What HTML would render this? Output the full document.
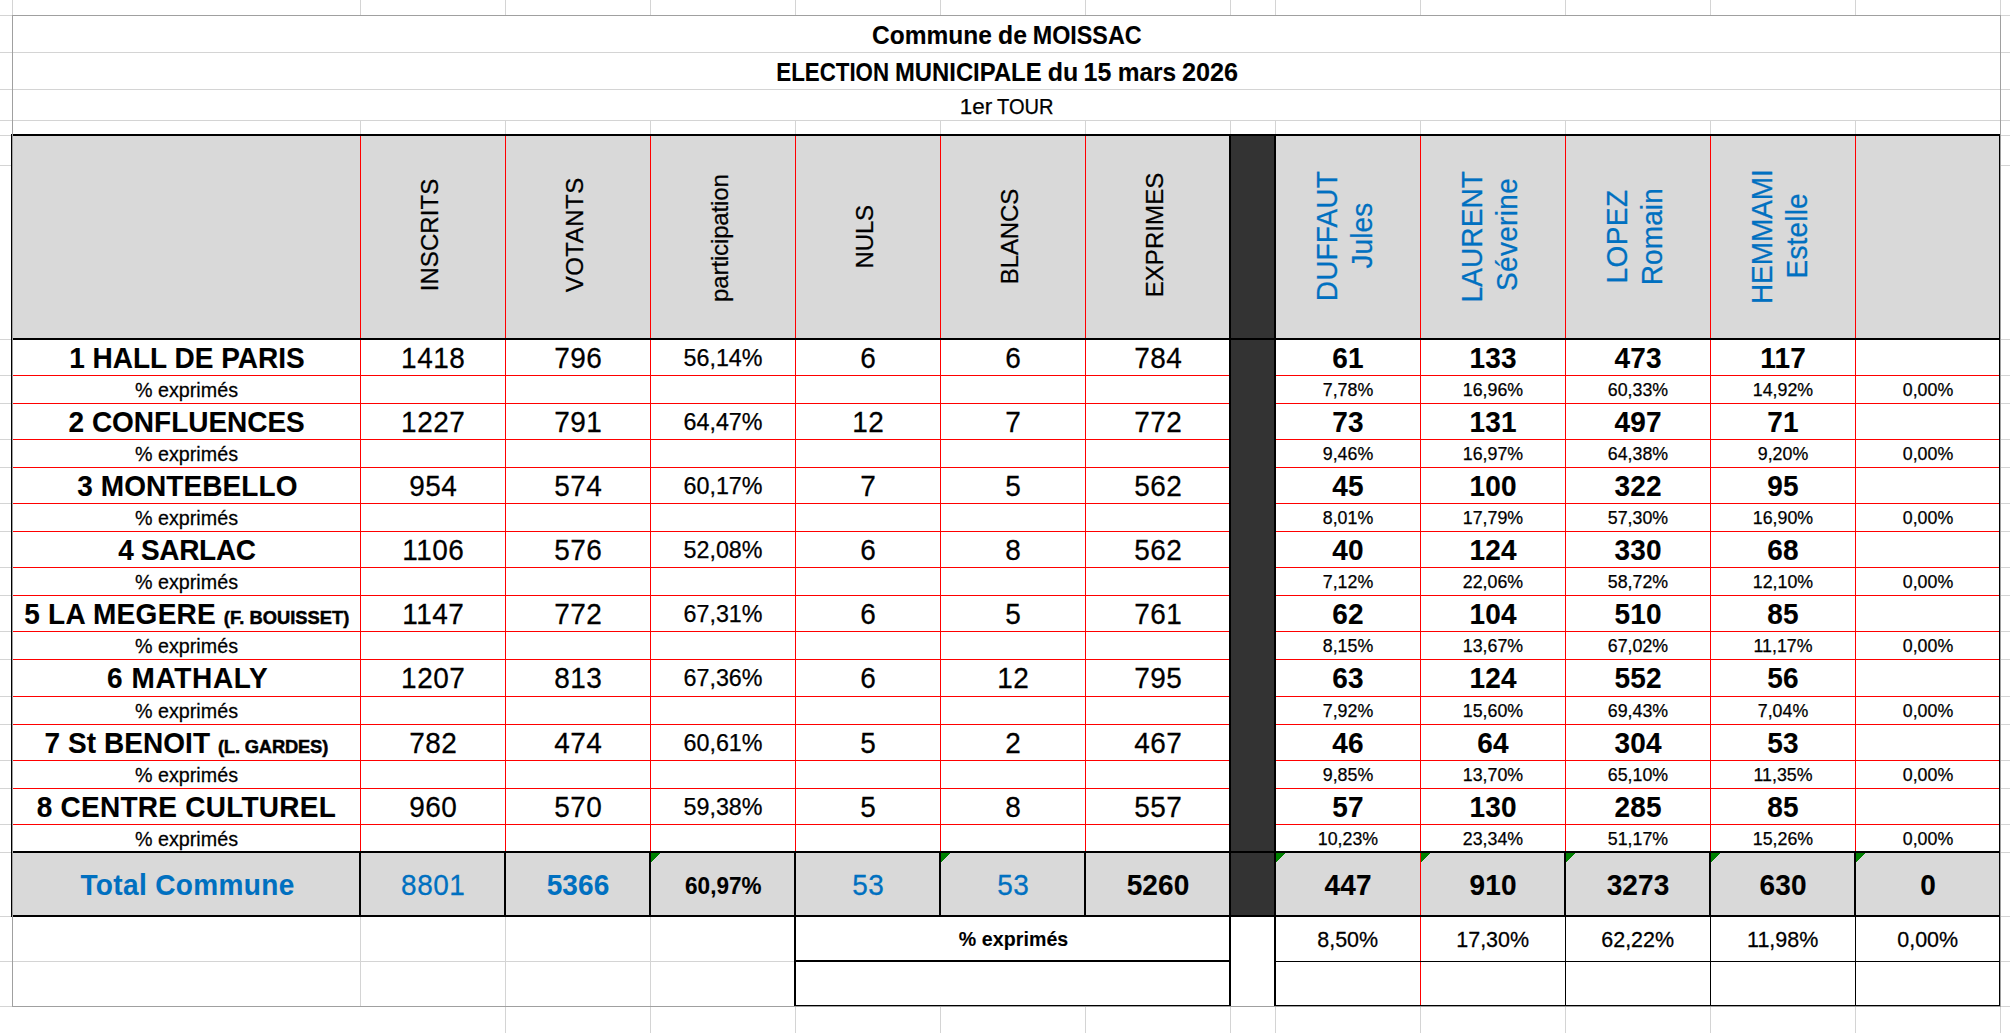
<!DOCTYPE html>
<html lang="fr">
<head>
<meta charset="utf-8">
<title>Commune de MOISSAC - Election municipale du 15 mars 2026 - 1er tour</title>
<style>
html,body{margin:0;padding:0;background:#fff;}
body{width:2010px;height:1033px;overflow:hidden;}
svg{display:block;font-family:"Liberation Sans",Arial,sans-serif;}
</style>
</head>
<body>
<svg width="2010" height="1033" viewBox="0 0 2010 1033">
<rect width="2010" height="1033" fill="#ffffff"/>
<g shape-rendering="crispEdges">
<rect x="12" y="0" width="1" height="15" fill="#d4d4d4"/>
<rect x="360" y="0" width="1" height="15" fill="#d4d4d4"/>
<rect x="360" y="121" width="1" height="13" fill="#d4d4d4"/>
<rect x="505" y="0" width="1" height="15" fill="#d4d4d4"/>
<rect x="505" y="121" width="1" height="13" fill="#d4d4d4"/>
<rect x="650" y="0" width="1" height="15" fill="#d4d4d4"/>
<rect x="650" y="121" width="1" height="13" fill="#d4d4d4"/>
<rect x="795" y="0" width="1" height="15" fill="#d4d4d4"/>
<rect x="795" y="121" width="1" height="13" fill="#d4d4d4"/>
<rect x="940" y="0" width="1" height="15" fill="#d4d4d4"/>
<rect x="940" y="121" width="1" height="13" fill="#d4d4d4"/>
<rect x="1085" y="0" width="1" height="15" fill="#d4d4d4"/>
<rect x="1085" y="121" width="1" height="13" fill="#d4d4d4"/>
<rect x="1230" y="0" width="1" height="15" fill="#d4d4d4"/>
<rect x="1230" y="121" width="1" height="13" fill="#d4d4d4"/>
<rect x="1275" y="0" width="1" height="15" fill="#d4d4d4"/>
<rect x="1275" y="121" width="1" height="13" fill="#d4d4d4"/>
<rect x="1420" y="0" width="1" height="15" fill="#d4d4d4"/>
<rect x="1420" y="121" width="1" height="13" fill="#d4d4d4"/>
<rect x="1565" y="0" width="1" height="15" fill="#d4d4d4"/>
<rect x="1565" y="121" width="1" height="13" fill="#d4d4d4"/>
<rect x="1710" y="0" width="1" height="15" fill="#d4d4d4"/>
<rect x="1710" y="121" width="1" height="13" fill="#d4d4d4"/>
<rect x="1855" y="0" width="1" height="15" fill="#d4d4d4"/>
<rect x="1855" y="121" width="1" height="13" fill="#d4d4d4"/>
<rect x="2000" y="0" width="1" height="15" fill="#d4d4d4"/>
<rect x="505" y="1007" width="1" height="26" fill="#d4d4d4"/>
<rect x="650" y="1007" width="1" height="26" fill="#d4d4d4"/>
<rect x="795" y="1007" width="1" height="26" fill="#d4d4d4"/>
<rect x="940" y="1007" width="1" height="26" fill="#d4d4d4"/>
<rect x="1085" y="1007" width="1" height="26" fill="#d4d4d4"/>
<rect x="1230" y="1007" width="1" height="26" fill="#d4d4d4"/>
<rect x="1275" y="1007" width="1" height="26" fill="#d4d4d4"/>
<rect x="1420" y="1007" width="1" height="26" fill="#d4d4d4"/>
<rect x="1565" y="1007" width="1" height="26" fill="#d4d4d4"/>
<rect x="1710" y="1007" width="1" height="26" fill="#d4d4d4"/>
<rect x="1855" y="1007" width="1" height="26" fill="#d4d4d4"/>
<rect x="2000" y="1007" width="1" height="26" fill="#d4d4d4"/>
<rect x="0" y="15" width="12" height="1" fill="#d4d4d4"/>
<rect x="2001" y="15" width="9" height="1" fill="#d4d4d4"/>
<rect x="0" y="52" width="12" height="1" fill="#d4d4d4"/>
<rect x="2001" y="52" width="9" height="1" fill="#d4d4d4"/>
<rect x="0" y="89" width="12" height="1" fill="#d4d4d4"/>
<rect x="2001" y="89" width="9" height="1" fill="#d4d4d4"/>
<rect x="0" y="120" width="12" height="1" fill="#d4d4d4"/>
<rect x="2001" y="120" width="9" height="1" fill="#d4d4d4"/>
<rect x="0" y="135" width="12" height="1" fill="#d4d4d4"/>
<rect x="2001" y="135" width="9" height="1" fill="#d4d4d4"/>
<rect x="0" y="165" width="12" height="1" fill="#d4d4d4"/>
<rect x="2001" y="165" width="9" height="1" fill="#d4d4d4"/>
<rect x="0" y="339" width="12" height="1" fill="#d4d4d4"/>
<rect x="2001" y="339" width="9" height="1" fill="#d4d4d4"/>
<rect x="0" y="375" width="12" height="1" fill="#d4d4d4"/>
<rect x="2001" y="375" width="9" height="1" fill="#d4d4d4"/>
<rect x="0" y="439" width="12" height="1" fill="#d4d4d4"/>
<rect x="2001" y="439" width="9" height="1" fill="#d4d4d4"/>
<rect x="0" y="503" width="12" height="1" fill="#d4d4d4"/>
<rect x="2001" y="503" width="9" height="1" fill="#d4d4d4"/>
<rect x="0" y="567" width="12" height="1" fill="#d4d4d4"/>
<rect x="2001" y="567" width="9" height="1" fill="#d4d4d4"/>
<rect x="0" y="631" width="12" height="1" fill="#d4d4d4"/>
<rect x="2001" y="631" width="9" height="1" fill="#d4d4d4"/>
<rect x="0" y="696" width="12" height="1" fill="#d4d4d4"/>
<rect x="2001" y="696" width="9" height="1" fill="#d4d4d4"/>
<rect x="0" y="760" width="12" height="1" fill="#d4d4d4"/>
<rect x="2001" y="760" width="9" height="1" fill="#d4d4d4"/>
<rect x="0" y="824" width="12" height="1" fill="#d4d4d4"/>
<rect x="2001" y="824" width="9" height="1" fill="#d4d4d4"/>
<rect x="0" y="403" width="12" height="1" fill="#d4d4d4"/>
<rect x="2001" y="403" width="9" height="1" fill="#d4d4d4"/>
<rect x="0" y="467" width="12" height="1" fill="#d4d4d4"/>
<rect x="2001" y="467" width="9" height="1" fill="#d4d4d4"/>
<rect x="0" y="531" width="12" height="1" fill="#d4d4d4"/>
<rect x="2001" y="531" width="9" height="1" fill="#d4d4d4"/>
<rect x="0" y="595" width="12" height="1" fill="#d4d4d4"/>
<rect x="2001" y="595" width="9" height="1" fill="#d4d4d4"/>
<rect x="0" y="659" width="12" height="1" fill="#d4d4d4"/>
<rect x="2001" y="659" width="9" height="1" fill="#d4d4d4"/>
<rect x="0" y="724" width="12" height="1" fill="#d4d4d4"/>
<rect x="2001" y="724" width="9" height="1" fill="#d4d4d4"/>
<rect x="0" y="788" width="12" height="1" fill="#d4d4d4"/>
<rect x="2001" y="788" width="9" height="1" fill="#d4d4d4"/>
<rect x="0" y="852" width="12" height="1" fill="#d4d4d4"/>
<rect x="2001" y="852" width="9" height="1" fill="#d4d4d4"/>
<rect x="0" y="916" width="12" height="1" fill="#d4d4d4"/>
<rect x="2001" y="916" width="9" height="1" fill="#d4d4d4"/>
<rect x="0" y="961" width="12" height="1" fill="#d4d4d4"/>
<rect x="2001" y="961" width="9" height="1" fill="#d4d4d4"/>
<rect x="0" y="1006" width="12" height="1" fill="#d4d4d4"/>
<rect x="2001" y="1006" width="9" height="1" fill="#d4d4d4"/>
<rect x="13" y="52" width="1987" height="1" fill="#d4d4d4"/>
<rect x="13" y="89" width="1987" height="1" fill="#d4d4d4"/>
<rect x="13" y="120" width="1987" height="1" fill="#d4d4d4"/>
<rect x="13" y="136" width="1216" height="202" fill="#d9d9d9"/>
<rect x="1276" y="136" width="723" height="202" fill="#d9d9d9"/>
<rect x="1231" y="136" width="43" height="780" fill="#333333"/>
<rect x="13" y="853" width="1216" height="62" fill="#d9d9d9"/>
<rect x="1276" y="853" width="723" height="62" fill="#d9d9d9"/>
<rect x="360" y="136" width="1" height="715" fill="#ff0000"/>
<rect x="505" y="136" width="1" height="715" fill="#ff0000"/>
<rect x="650" y="136" width="1" height="715" fill="#ff0000"/>
<rect x="795" y="136" width="1" height="715" fill="#ff0000"/>
<rect x="940" y="136" width="1" height="715" fill="#ff0000"/>
<rect x="1085" y="136" width="1" height="715" fill="#ff0000"/>
<rect x="1420" y="136" width="1" height="715" fill="#ff0000"/>
<rect x="1565" y="136" width="1" height="715" fill="#ff0000"/>
<rect x="1710" y="136" width="1" height="715" fill="#ff0000"/>
<rect x="1855" y="136" width="1" height="715" fill="#ff0000"/>
<rect x="1420" y="853" width="1" height="152" fill="#ff0000"/>
<rect x="13" y="375" width="1216" height="1" fill="#ff0000"/>
<rect x="1276" y="375" width="723" height="1" fill="#ff0000"/>
<rect x="13" y="439" width="1216" height="1" fill="#ff0000"/>
<rect x="1276" y="439" width="723" height="1" fill="#ff0000"/>
<rect x="13" y="503" width="1216" height="1" fill="#ff0000"/>
<rect x="1276" y="503" width="723" height="1" fill="#ff0000"/>
<rect x="13" y="567" width="1216" height="1" fill="#ff0000"/>
<rect x="1276" y="567" width="723" height="1" fill="#ff0000"/>
<rect x="13" y="631" width="1216" height="1" fill="#ff0000"/>
<rect x="1276" y="631" width="723" height="1" fill="#ff0000"/>
<rect x="13" y="696" width="1216" height="1" fill="#ff0000"/>
<rect x="1276" y="696" width="723" height="1" fill="#ff0000"/>
<rect x="13" y="760" width="1216" height="1" fill="#ff0000"/>
<rect x="1276" y="760" width="723" height="1" fill="#ff0000"/>
<rect x="13" y="824" width="1216" height="1" fill="#ff0000"/>
<rect x="1276" y="824" width="723" height="1" fill="#ff0000"/>
<rect x="13" y="403" width="1216" height="1" fill="#ff0000"/>
<rect x="1276" y="403" width="723" height="1" fill="#ff0000"/>
<rect x="13" y="467" width="1216" height="1" fill="#ff0000"/>
<rect x="1276" y="467" width="723" height="1" fill="#ff0000"/>
<rect x="13" y="531" width="1216" height="1" fill="#ff0000"/>
<rect x="1276" y="531" width="723" height="1" fill="#ff0000"/>
<rect x="13" y="595" width="1216" height="1" fill="#ff0000"/>
<rect x="1276" y="595" width="723" height="1" fill="#ff0000"/>
<rect x="13" y="659" width="1216" height="1" fill="#ff0000"/>
<rect x="1276" y="659" width="723" height="1" fill="#ff0000"/>
<rect x="13" y="724" width="1216" height="1" fill="#ff0000"/>
<rect x="1276" y="724" width="723" height="1" fill="#ff0000"/>
<rect x="13" y="788" width="1216" height="1" fill="#ff0000"/>
<rect x="1276" y="788" width="723" height="1" fill="#ff0000"/>
<rect x="13" y="961" width="781" height="1" fill="#d4d4d4"/>
<rect x="360" y="917" width="1" height="89" fill="#d4d4d4"/>
<rect x="505" y="917" width="1" height="89" fill="#d4d4d4"/>
<rect x="650" y="917" width="1" height="89" fill="#d4d4d4"/>
<rect x="11" y="134" width="1990" height="2" fill="#000000"/>
<rect x="11" y="338" width="1990" height="2" fill="#000000"/>
<rect x="11" y="851" width="1990" height="2" fill="#000000"/>
<rect x="11" y="915" width="1990" height="2" fill="#000000"/>
<rect x="11" y="134" width="2" height="783" fill="#000000"/>
<rect x="1999" y="134" width="2" height="873" fill="#000000"/>
<rect x="1229" y="134" width="2" height="873" fill="#000000"/>
<rect x="1274" y="134" width="2" height="873" fill="#000000"/>
<rect x="359" y="853" width="2" height="62" fill="#000000"/>
<rect x="504" y="853" width="2" height="62" fill="#000000"/>
<rect x="649" y="853" width="2" height="62" fill="#000000"/>
<rect x="794" y="853" width="2" height="62" fill="#000000"/>
<rect x="939" y="853" width="2" height="62" fill="#000000"/>
<rect x="1084" y="853" width="2" height="62" fill="#000000"/>
<rect x="1564" y="853" width="2" height="62" fill="#000000"/>
<rect x="1709" y="853" width="2" height="62" fill="#000000"/>
<rect x="1854" y="853" width="2" height="62" fill="#000000"/>
<rect x="794" y="917" width="2" height="90" fill="#000000"/>
<rect x="794" y="960" width="435" height="2" fill="#000000"/>
<rect x="794" y="1005" width="435" height="2" fill="#000000"/>
<rect x="1276" y="961" width="723" height="1" fill="#000000"/>
<rect x="1276" y="1005" width="723" height="2" fill="#000000"/>
<rect x="1565" y="917" width="1" height="88" fill="#000000"/>
<rect x="1710" y="917" width="1" height="88" fill="#000000"/>
<rect x="1855" y="917" width="1" height="88" fill="#000000"/>
<rect x="12" y="15" width="1989" height="1" fill="#a0a0a0"/>
<rect x="12" y="1006" width="1989" height="1" fill="#a0a0a0"/>
<rect x="12" y="15" width="1" height="992" fill="#a0a0a0"/>
<rect x="2000" y="15" width="1" height="992" fill="#a0a0a0"/>
</g>
<path d="M651 853h9v1h-1v1h-1v1h-1v1h-1v1h-1v1h-1v1h-1v1h-1v1h-1z" fill="#008000" shape-rendering="crispEdges"/>
<path d="M941 853h9v1h-1v1h-1v1h-1v1h-1v1h-1v1h-1v1h-1v1h-1v1h-1z" fill="#008000" shape-rendering="crispEdges"/>
<path d="M1276 853h9v1h-1v1h-1v1h-1v1h-1v1h-1v1h-1v1h-1v1h-1v1h-1z" fill="#008000" shape-rendering="crispEdges"/>
<path d="M1421 853h9v1h-1v1h-1v1h-1v1h-1v1h-1v1h-1v1h-1v1h-1v1h-1z" fill="#008000" shape-rendering="crispEdges"/>
<path d="M1566 853h9v1h-1v1h-1v1h-1v1h-1v1h-1v1h-1v1h-1v1h-1v1h-1z" fill="#008000" shape-rendering="crispEdges"/>
<path d="M1711 853h9v1h-1v1h-1v1h-1v1h-1v1h-1v1h-1v1h-1v1h-1v1h-1z" fill="#008000" shape-rendering="crispEdges"/>
<path d="M1856 853h9v1h-1v1h-1v1h-1v1h-1v1h-1v1h-1v1h-1v1h-1v1h-1z" fill="#008000" shape-rendering="crispEdges"/>
<g fill="#000000" stroke="#000000" stroke-width="0.25">
<text y="44" font-size="26" font-weight="bold" stroke-width="0.1"><tspan x="872.01" textLength="119.83" lengthAdjust="spacingAndGlyphs">Commune</tspan> <tspan x="998.02" textLength="28.91" lengthAdjust="spacingAndGlyphs">de</tspan> <tspan x="1032.74" textLength="108.83" lengthAdjust="spacingAndGlyphs">MOISSAC</tspan></text>
<text y="81" font-size="26" font-weight="bold" stroke-width="0.1"><tspan x="776.31" textLength="112.74" lengthAdjust="spacingAndGlyphs">ELECTION</tspan> <tspan x="895.01" textLength="146.56" lengthAdjust="spacingAndGlyphs">MUNICIPALE</tspan> <tspan x="1047.81" textLength="30.48" lengthAdjust="spacingAndGlyphs">du</tspan> <tspan x="1083.62" textLength="27.8" lengthAdjust="spacingAndGlyphs">15</tspan> <tspan x="1117.65" textLength="58.54" lengthAdjust="spacingAndGlyphs">mars</tspan> <tspan x="1181.93" textLength="56.15" lengthAdjust="spacingAndGlyphs">2026</tspan></text>
<text y="114" font-size="21.2"><tspan x="959.89" textLength="32.46" lengthAdjust="spacingAndGlyphs">1er</tspan> <tspan x="997.05" textLength="56.51" lengthAdjust="spacingAndGlyphs">TOUR</tspan></text>
<text transform="translate(437.8 291.34) rotate(-90) scale(1 1.02)" font-size="24" letter-spacing="0.09">INSCRITS</text>
<text transform="translate(582.8 292.33) rotate(-90) scale(1 1.02)" font-size="24" letter-spacing="0.5">VOTANTS</text>
<text transform="translate(727.8 301.88) rotate(-90) scale(1 1.02)" font-size="24" letter-spacing="-0.14">participation</text>
<text transform="translate(872.8 268.4) rotate(-90) scale(1 1.02)" font-size="24" letter-spacing="-0.17">NULS</text>
<text transform="translate(1017.8 284.2) rotate(-90) scale(1 1.02)" font-size="24" letter-spacing="-0.12">BLANCS</text>
<text transform="translate(1162.8 297.3) rotate(-90) scale(1 1.02)" font-size="24" letter-spacing="0.08">EXPRIMES</text>
<text transform="translate(1337.4 301.21) rotate(-90) scale(1 1.04)" font-size="28" fill="#0070c0" stroke="#0070c0" letter-spacing="0.16">DUFFAUT</text>
<text transform="translate(1371.9 268.51) rotate(-90) scale(1 1.03)" font-size="28" fill="#0070c0" stroke="#0070c0" letter-spacing="0.08">Jules</text>
<text transform="translate(1482.4 302.51) rotate(-90) scale(1 1.04)" font-size="28" fill="#0070c0" stroke="#0070c0" letter-spacing="0.13">LAURENT</text>
<text transform="translate(1516.9 290.94) rotate(-90) scale(1 1.03)" font-size="28" fill="#0070c0" stroke="#0070c0" letter-spacing="0.32">Séverine</text>
<text transform="translate(1627.4 283.41) rotate(-90) scale(1 1.04)" font-size="28" fill="#0070c0" stroke="#0070c0" letter-spacing="0.43">LOPEZ</text>
<text transform="translate(1661.9 285.31) rotate(-90) scale(1 1.03)" font-size="28" fill="#0070c0" stroke="#0070c0" letter-spacing="0.12">Romain</text>
<text transform="translate(1772.4 304.11) rotate(-90) scale(1 1.04)" font-size="28" fill="#0070c0" stroke="#0070c0" letter-spacing="-0.06">HEMMAMI</text>
<text transform="translate(1806.9 278.41) rotate(-90) scale(1 1.03)" font-size="28" fill="#0070c0" stroke="#0070c0" letter-spacing="0.17">Estelle</text>
<text transform="translate(69.14 368) scale(1 1.05)" font-size="28" font-weight="bold" stroke-width="0.1" letter-spacing="0.02">1 HALL DE PARIS</text>
<text transform="translate(401.1 368) scale(1 1.045)" font-size="28" letter-spacing="0.5">1418</text>
<text transform="translate(554.14 368) scale(1 1.045)" font-size="28" letter-spacing="0.5">796</text>
<text transform="translate(860.21 368) scale(1 1.045)" font-size="28" letter-spacing="0.5">6</text>
<text transform="translate(1005.21 368) scale(1 1.045)" font-size="28" letter-spacing="0.5">6</text>
<text transform="translate(1134.14 368) scale(1 1.045)" font-size="28" letter-spacing="0.5">784</text>
<text transform="translate(683.49 366)" font-size="23.3">56,14%</text>
<text transform="translate(1332.35 368) scale(1 1.05)" font-size="28" font-weight="bold" stroke-width="0.1" letter-spacing="0.15">61</text>
<text transform="translate(1469.49 368) scale(1 1.05)" font-size="28" font-weight="bold" stroke-width="0.1" letter-spacing="0.15">133</text>
<text transform="translate(1614.49 368) scale(1 1.05)" font-size="28" font-weight="bold" stroke-width="0.1" letter-spacing="0.15">473</text>
<text transform="translate(1760.26 368) scale(1 1.05)" font-size="28" font-weight="bold" stroke-width="0.1" letter-spacing="0.15">117</text>
<text transform="translate(134.95 397) scale(1 1.05)" font-size="19.7" letter-spacing="0.02">% exprimés</text>
<text transform="translate(1322.79 396)" font-size="17.8">7,78%</text>
<text transform="translate(1462.84 396)" font-size="17.8">16,96%</text>
<text transform="translate(1607.84 396)" font-size="17.8">60,33%</text>
<text transform="translate(1752.84 396)" font-size="17.8">14,92%</text>
<text transform="translate(1902.79 396)" font-size="17.8">0,00%</text>
<text transform="translate(68.6 432) scale(1 1.05)" font-size="28" font-weight="bold" stroke-width="0.1" letter-spacing="-0.01">2 CONFLUENCES</text>
<text transform="translate(401.1 432) scale(1 1.045)" font-size="28" letter-spacing="0.5">1227</text>
<text transform="translate(554.14 432) scale(1 1.045)" font-size="28" letter-spacing="0.5">791</text>
<text transform="translate(852.17 432) scale(1 1.045)" font-size="28" letter-spacing="0.5">12</text>
<text transform="translate(1005.21 432) scale(1 1.045)" font-size="28" letter-spacing="0.5">7</text>
<text transform="translate(1134.14 432) scale(1 1.045)" font-size="28" letter-spacing="0.5">772</text>
<text transform="translate(683.49 430)" font-size="23.3">64,47%</text>
<text transform="translate(1332.35 432) scale(1 1.05)" font-size="28" font-weight="bold" stroke-width="0.1" letter-spacing="0.15">73</text>
<text transform="translate(1469.49 432) scale(1 1.05)" font-size="28" font-weight="bold" stroke-width="0.1" letter-spacing="0.15">131</text>
<text transform="translate(1614.49 432) scale(1 1.05)" font-size="28" font-weight="bold" stroke-width="0.1" letter-spacing="0.15">497</text>
<text transform="translate(1767.35 432) scale(1 1.05)" font-size="28" font-weight="bold" stroke-width="0.1" letter-spacing="0.15">71</text>
<text transform="translate(134.95 461) scale(1 1.05)" font-size="19.7" letter-spacing="0.02">% exprimés</text>
<text transform="translate(1322.79 460)" font-size="17.8">9,46%</text>
<text transform="translate(1462.84 460)" font-size="17.8">16,97%</text>
<text transform="translate(1607.84 460)" font-size="17.8">64,38%</text>
<text transform="translate(1757.79 460)" font-size="17.8">9,20%</text>
<text transform="translate(1902.79 460)" font-size="17.8">0,00%</text>
<text transform="translate(77.25 496) scale(1 1.05)" font-size="28" font-weight="bold" stroke-width="0.1" letter-spacing="0.09">3 MONTEBELLO</text>
<text transform="translate(409.14 496) scale(1 1.045)" font-size="28" letter-spacing="0.5">954</text>
<text transform="translate(554.14 496) scale(1 1.045)" font-size="28" letter-spacing="0.5">574</text>
<text transform="translate(860.21 496) scale(1 1.045)" font-size="28" letter-spacing="0.5">7</text>
<text transform="translate(1005.21 496) scale(1 1.045)" font-size="28" letter-spacing="0.5">5</text>
<text transform="translate(1134.14 496) scale(1 1.045)" font-size="28" letter-spacing="0.5">562</text>
<text transform="translate(683.49 494)" font-size="23.3">60,17%</text>
<text transform="translate(1332.35 496) scale(1 1.05)" font-size="28" font-weight="bold" stroke-width="0.1" letter-spacing="0.15">45</text>
<text transform="translate(1469.49 496) scale(1 1.05)" font-size="28" font-weight="bold" stroke-width="0.1" letter-spacing="0.15">100</text>
<text transform="translate(1614.49 496) scale(1 1.05)" font-size="28" font-weight="bold" stroke-width="0.1" letter-spacing="0.15">322</text>
<text transform="translate(1767.35 496) scale(1 1.05)" font-size="28" font-weight="bold" stroke-width="0.1" letter-spacing="0.15">95</text>
<text transform="translate(134.95 525) scale(1 1.05)" font-size="19.7" letter-spacing="0.02">% exprimés</text>
<text transform="translate(1322.79 524)" font-size="17.8">8,01%</text>
<text transform="translate(1462.84 524)" font-size="17.8">17,79%</text>
<text transform="translate(1607.84 524)" font-size="17.8">57,30%</text>
<text transform="translate(1752.84 524)" font-size="17.8">16,90%</text>
<text transform="translate(1902.79 524)" font-size="17.8">0,00%</text>
<text transform="translate(118.26 560) scale(1 1.05)" font-size="28" font-weight="bold" stroke-width="0.1" letter-spacing="-0.31">4 SARLAC</text>
<text transform="translate(402.14 560) scale(1 1.045)" font-size="28" letter-spacing="0.5">1106</text>
<text transform="translate(554.14 560) scale(1 1.045)" font-size="28" letter-spacing="0.5">576</text>
<text transform="translate(860.21 560) scale(1 1.045)" font-size="28" letter-spacing="0.5">6</text>
<text transform="translate(1005.21 560) scale(1 1.045)" font-size="28" letter-spacing="0.5">8</text>
<text transform="translate(1134.14 560) scale(1 1.045)" font-size="28" letter-spacing="0.5">562</text>
<text transform="translate(683.49 558)" font-size="23.3">52,08%</text>
<text transform="translate(1332.35 560) scale(1 1.05)" font-size="28" font-weight="bold" stroke-width="0.1" letter-spacing="0.15">40</text>
<text transform="translate(1469.49 560) scale(1 1.05)" font-size="28" font-weight="bold" stroke-width="0.1" letter-spacing="0.15">124</text>
<text transform="translate(1614.49 560) scale(1 1.05)" font-size="28" font-weight="bold" stroke-width="0.1" letter-spacing="0.15">330</text>
<text transform="translate(1767.35 560) scale(1 1.05)" font-size="28" font-weight="bold" stroke-width="0.1" letter-spacing="0.15">68</text>
<text transform="translate(134.95 589) scale(1 1.05)" font-size="19.7" letter-spacing="0.02">% exprimés</text>
<text transform="translate(1322.79 588)" font-size="17.8">7,12%</text>
<text transform="translate(1462.84 588)" font-size="17.8">22,06%</text>
<text transform="translate(1607.84 588)" font-size="17.8">58,72%</text>
<text transform="translate(1752.84 588)" font-size="17.8">12,10%</text>
<text transform="translate(1902.79 588)" font-size="17.8">0,00%</text>
<text transform="translate(24.14 624) scale(1 1.05)" font-size="28" font-weight="bold" stroke-width="0.1" letter-spacing="0.3">5 LA MEGERE</text>
<text transform="translate(223.8 624) scale(1 0.98)" font-size="18.3" font-weight="bold" stroke-width="0.5" letter-spacing="0.05">(F. BOUISSET)</text>
<text transform="translate(402.14 624) scale(1 1.045)" font-size="28" letter-spacing="0.5">1147</text>
<text transform="translate(554.14 624) scale(1 1.045)" font-size="28" letter-spacing="0.5">772</text>
<text transform="translate(860.21 624) scale(1 1.045)" font-size="28" letter-spacing="0.5">6</text>
<text transform="translate(1005.21 624) scale(1 1.045)" font-size="28" letter-spacing="0.5">5</text>
<text transform="translate(1134.14 624) scale(1 1.045)" font-size="28" letter-spacing="0.5">761</text>
<text transform="translate(683.49 622)" font-size="23.3">67,31%</text>
<text transform="translate(1332.35 624) scale(1 1.05)" font-size="28" font-weight="bold" stroke-width="0.1" letter-spacing="0.15">62</text>
<text transform="translate(1469.49 624) scale(1 1.05)" font-size="28" font-weight="bold" stroke-width="0.1" letter-spacing="0.15">104</text>
<text transform="translate(1614.49 624) scale(1 1.05)" font-size="28" font-weight="bold" stroke-width="0.1" letter-spacing="0.15">510</text>
<text transform="translate(1767.35 624) scale(1 1.05)" font-size="28" font-weight="bold" stroke-width="0.1" letter-spacing="0.15">85</text>
<text transform="translate(134.95 653) scale(1 1.05)" font-size="19.7" letter-spacing="0.02">% exprimés</text>
<text transform="translate(1322.79 652)" font-size="17.8">8,15%</text>
<text transform="translate(1462.84 652)" font-size="17.8">13,67%</text>
<text transform="translate(1607.84 652)" font-size="17.8">67,02%</text>
<text transform="translate(1753.5 652)" font-size="17.8">11,17%</text>
<text transform="translate(1902.79 652)" font-size="17.8">0,00%</text>
<text transform="translate(106.89 688) scale(1 1.05)" font-size="28" font-weight="bold" stroke-width="0.1" letter-spacing="0.66">6 MATHALY</text>
<text transform="translate(401.1 688) scale(1 1.045)" font-size="28" letter-spacing="0.5">1207</text>
<text transform="translate(554.14 688) scale(1 1.045)" font-size="28" letter-spacing="0.5">813</text>
<text transform="translate(860.21 688) scale(1 1.045)" font-size="28" letter-spacing="0.5">6</text>
<text transform="translate(997.17 688) scale(1 1.045)" font-size="28" letter-spacing="0.5">12</text>
<text transform="translate(1134.14 688) scale(1 1.045)" font-size="28" letter-spacing="0.5">795</text>
<text transform="translate(683.49 686)" font-size="23.3">67,36%</text>
<text transform="translate(1332.35 688) scale(1 1.05)" font-size="28" font-weight="bold" stroke-width="0.1" letter-spacing="0.15">63</text>
<text transform="translate(1469.49 688) scale(1 1.05)" font-size="28" font-weight="bold" stroke-width="0.1" letter-spacing="0.15">124</text>
<text transform="translate(1614.49 688) scale(1 1.05)" font-size="28" font-weight="bold" stroke-width="0.1" letter-spacing="0.15">552</text>
<text transform="translate(1767.35 688) scale(1 1.05)" font-size="28" font-weight="bold" stroke-width="0.1" letter-spacing="0.15">56</text>
<text transform="translate(134.95 718) scale(1 1.05)" font-size="19.7" letter-spacing="0.02">% exprimés</text>
<text transform="translate(1322.79 717)" font-size="17.8">7,92%</text>
<text transform="translate(1462.84 717)" font-size="17.8">15,60%</text>
<text transform="translate(1607.84 717)" font-size="17.8">69,43%</text>
<text transform="translate(1757.79 717)" font-size="17.8">7,04%</text>
<text transform="translate(1902.79 717)" font-size="17.8">0,00%</text>
<text transform="translate(44.58 753) scale(1 1.05)" font-size="28" font-weight="bold" stroke-width="0.1" letter-spacing="0.06">7 St BENOIT</text>
<text transform="translate(217.9 753) scale(1 0.98)" font-size="18.3" font-weight="bold" stroke-width="0.5" letter-spacing="-0.14">(L. GARDES)</text>
<text transform="translate(409.14 753) scale(1 1.045)" font-size="28" letter-spacing="0.5">782</text>
<text transform="translate(554.14 753) scale(1 1.045)" font-size="28" letter-spacing="0.5">474</text>
<text transform="translate(860.21 753) scale(1 1.045)" font-size="28" letter-spacing="0.5">5</text>
<text transform="translate(1005.21 753) scale(1 1.045)" font-size="28" letter-spacing="0.5">2</text>
<text transform="translate(1134.14 753) scale(1 1.045)" font-size="28" letter-spacing="0.5">467</text>
<text transform="translate(683.49 751)" font-size="23.3">60,61%</text>
<text transform="translate(1332.35 753) scale(1 1.05)" font-size="28" font-weight="bold" stroke-width="0.1" letter-spacing="0.15">46</text>
<text transform="translate(1477.35 753) scale(1 1.05)" font-size="28" font-weight="bold" stroke-width="0.1" letter-spacing="0.15">64</text>
<text transform="translate(1614.49 753) scale(1 1.05)" font-size="28" font-weight="bold" stroke-width="0.1" letter-spacing="0.15">304</text>
<text transform="translate(1767.35 753) scale(1 1.05)" font-size="28" font-weight="bold" stroke-width="0.1" letter-spacing="0.15">53</text>
<text transform="translate(134.95 782) scale(1 1.05)" font-size="19.7" letter-spacing="0.02">% exprimés</text>
<text transform="translate(1322.79 781)" font-size="17.8">9,85%</text>
<text transform="translate(1462.84 781)" font-size="17.8">13,70%</text>
<text transform="translate(1607.84 781)" font-size="17.8">65,10%</text>
<text transform="translate(1753.5 781)" font-size="17.8">11,35%</text>
<text transform="translate(1902.79 781)" font-size="17.8">0,00%</text>
<text transform="translate(36.76 817) scale(1 1.05)" font-size="28" font-weight="bold" stroke-width="0.1" letter-spacing="0.26">8 CENTRE CULTUREL</text>
<text transform="translate(409.14 817) scale(1 1.045)" font-size="28" letter-spacing="0.5">960</text>
<text transform="translate(554.14 817) scale(1 1.045)" font-size="28" letter-spacing="0.5">570</text>
<text transform="translate(860.21 817) scale(1 1.045)" font-size="28" letter-spacing="0.5">5</text>
<text transform="translate(1005.21 817) scale(1 1.045)" font-size="28" letter-spacing="0.5">8</text>
<text transform="translate(1134.14 817) scale(1 1.045)" font-size="28" letter-spacing="0.5">557</text>
<text transform="translate(683.49 815)" font-size="23.3">59,38%</text>
<text transform="translate(1332.35 817) scale(1 1.05)" font-size="28" font-weight="bold" stroke-width="0.1" letter-spacing="0.15">57</text>
<text transform="translate(1469.49 817) scale(1 1.05)" font-size="28" font-weight="bold" stroke-width="0.1" letter-spacing="0.15">130</text>
<text transform="translate(1614.49 817) scale(1 1.05)" font-size="28" font-weight="bold" stroke-width="0.1" letter-spacing="0.15">285</text>
<text transform="translate(1767.35 817) scale(1 1.05)" font-size="28" font-weight="bold" stroke-width="0.1" letter-spacing="0.15">85</text>
<text transform="translate(134.95 846) scale(1 1.05)" font-size="19.7" letter-spacing="0.02">% exprimés</text>
<text transform="translate(1317.84 845)" font-size="17.8">10,23%</text>
<text transform="translate(1462.84 845)" font-size="17.8">23,34%</text>
<text transform="translate(1607.84 845)" font-size="17.8">51,17%</text>
<text transform="translate(1752.84 845)" font-size="17.8">15,26%</text>
<text transform="translate(1902.79 845)" font-size="17.8">0,00%</text>
<text transform="translate(80.42 895) scale(1 1.05)" font-size="28" font-weight="bold" stroke-width="0.1" fill="#0070c0" stroke="#0070c0" letter-spacing="0.38">Total Commune</text>
<text transform="translate(401.1 895) scale(1 1.045)" font-size="28" fill="#0070c0" stroke="#0070c0" letter-spacing="0.5">8801</text>
<text transform="translate(546.63 895) scale(1 1.05)" font-size="28" font-weight="bold" stroke-width="0.1" fill="#0070c0" stroke="#0070c0" letter-spacing="0.15">5366</text>
<text transform="translate(685 894) scale(1 1.065)" font-size="22.5" font-weight="bold" stroke-width="0.1" letter-spacing="0.06">60,97%</text>
<text transform="translate(852.17 895) scale(1 1.045)" font-size="28" fill="#0070c0" stroke="#0070c0" letter-spacing="0.5">53</text>
<text transform="translate(997.17 895) scale(1 1.045)" font-size="28" fill="#0070c0" stroke="#0070c0" letter-spacing="0.5">53</text>
<text transform="translate(1126.63 895) scale(1 1.05)" font-size="28" font-weight="bold" stroke-width="0.1" letter-spacing="0.15">5260</text>
<text transform="translate(1324.49 895) scale(1 1.05)" font-size="28" font-weight="bold" stroke-width="0.1" letter-spacing="0.15">447</text>
<text transform="translate(1469.49 895) scale(1 1.05)" font-size="28" font-weight="bold" stroke-width="0.1" letter-spacing="0.15">910</text>
<text transform="translate(1606.63 895) scale(1 1.05)" font-size="28" font-weight="bold" stroke-width="0.1" letter-spacing="0.15">3273</text>
<text transform="translate(1759.49 895) scale(1 1.05)" font-size="28" font-weight="bold" stroke-width="0.1" letter-spacing="0.15">630</text>
<text transform="translate(1920.21 895) scale(1 1.05)" font-size="28" font-weight="bold" stroke-width="0.1" letter-spacing="0.15">0</text>
<text transform="translate(958.87 946)" font-size="19.6" font-weight="bold" stroke-width="0.1" letter-spacing="0.05">% exprimés</text>
<text transform="translate(1317.22 947) scale(1 1.05)" font-size="21.5">8,50%</text>
<text transform="translate(1456.24 947) scale(1 1.05)" font-size="21.5">17,30%</text>
<text transform="translate(1601.24 947) scale(1 1.05)" font-size="21.5">62,22%</text>
<text transform="translate(1747.04 947) scale(1 1.05)" font-size="21.5">11,98%</text>
<text transform="translate(1897.22 947) scale(1 1.05)" font-size="21.5">0,00%</text>
</g>
</svg>
</body>
</html>
